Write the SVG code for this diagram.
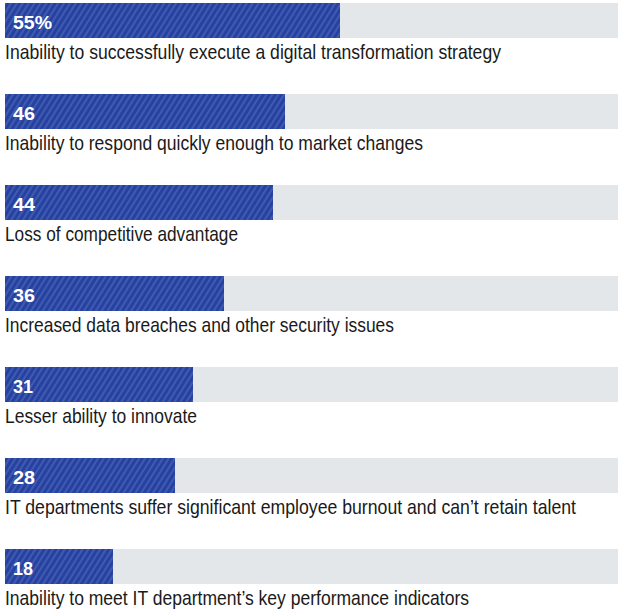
<svg xmlns="http://www.w3.org/2000/svg" width="618" height="610" viewBox="0 0 618 610">
<style>
.track{fill:#e3e7ea}
.bar{fill:#2542a2}
.hatch{fill:url(#h)}
.val{font-family:"Liberation Sans Narrow","Liberation Sans",Arial,sans-serif;font-weight:bold;font-size:19px;fill:#ffffff}
.lab{font-family:"Liberation Sans Narrow","Liberation Sans",Arial,sans-serif;font-size:21px;fill:#1a1a1a}
</style>
<defs>
<pattern id="h" patternUnits="userSpaceOnUse" width="5" height="10" patternTransform="rotate(32)">
<line x1="1" y1="0" x2="1" y2="10" stroke="#ffffff" stroke-opacity="0.32" stroke-width="0.8"/>
</pattern>
</defs>
<rect width="618" height="610" fill="#ffffff"/>
<g id="row1">
<rect class="track" x="5" y="3" width="613" height="35"/>
<rect class="bar" x="5" y="3" width="335" height="35"/>
<rect class="hatch" x="5" y="3" width="335" height="35"/>
<text class="val" x="13" y="29" textLength="39" lengthAdjust="spacingAndGlyphs">55%</text>
<text class="lab" x="5" y="59" textLength="496" lengthAdjust="spacingAndGlyphs">Inability to successfully execute a digital transformation strategy</text>
</g>
<g id="row2">
<rect class="track" x="5" y="94" width="613" height="35"/>
<rect class="bar" x="5" y="94" width="280" height="35"/>
<rect class="hatch" x="5" y="94" width="280" height="35"/>
<text class="val" x="13" y="120" textLength="22" lengthAdjust="spacingAndGlyphs">46</text>
<text class="lab" x="5" y="150" textLength="418" lengthAdjust="spacingAndGlyphs">Inability to respond quickly enough to market changes</text>
</g>
<g id="row3">
<rect class="track" x="5" y="185" width="613" height="35"/>
<rect class="bar" x="5" y="185" width="268" height="35"/>
<rect class="hatch" x="5" y="185" width="268" height="35"/>
<text class="val" x="13" y="211" textLength="22" lengthAdjust="spacingAndGlyphs">44</text>
<text class="lab" x="5" y="241" textLength="233" lengthAdjust="spacingAndGlyphs">Loss of competitive advantage</text>
</g>
<g id="row4">
<rect class="track" x="5" y="276" width="613" height="35"/>
<rect class="bar" x="5" y="276" width="219" height="35"/>
<rect class="hatch" x="5" y="276" width="219" height="35"/>
<text class="val" x="13" y="302" textLength="22" lengthAdjust="spacingAndGlyphs">36</text>
<text class="lab" x="5" y="332" textLength="389" lengthAdjust="spacingAndGlyphs">Increased data breaches and other security issues</text>
</g>
<g id="row5">
<rect class="track" x="5" y="367" width="613" height="35"/>
<rect class="bar" x="5" y="367" width="188" height="35"/>
<rect class="hatch" x="5" y="367" width="188" height="35"/>
<text class="val" x="13" y="393" textLength="20" lengthAdjust="spacingAndGlyphs">31</text>
<text class="lab" x="5" y="423" textLength="192" lengthAdjust="spacingAndGlyphs">Lesser ability to innovate</text>
</g>
<g id="row6">
<rect class="track" x="5" y="458" width="613" height="35"/>
<rect class="bar" x="5" y="458" width="170" height="35"/>
<rect class="hatch" x="5" y="458" width="170" height="35"/>
<text class="val" x="13" y="484" textLength="22" lengthAdjust="spacingAndGlyphs">28</text>
<text class="lab" x="5" y="514" textLength="571" lengthAdjust="spacingAndGlyphs">IT departments suffer significant employee burnout and can’t retain talent</text>
</g>
<g id="row7">
<rect class="track" x="5" y="549" width="613" height="35"/>
<rect class="bar" x="5" y="549" width="108" height="35"/>
<rect class="hatch" x="5" y="549" width="108" height="35"/>
<text class="val" x="13" y="575" textLength="20" lengthAdjust="spacingAndGlyphs">18</text>
<text class="lab" x="5" y="605" textLength="464" lengthAdjust="spacingAndGlyphs">Inability to meet IT department’s key performance indicators</text>
</g>
</svg>
